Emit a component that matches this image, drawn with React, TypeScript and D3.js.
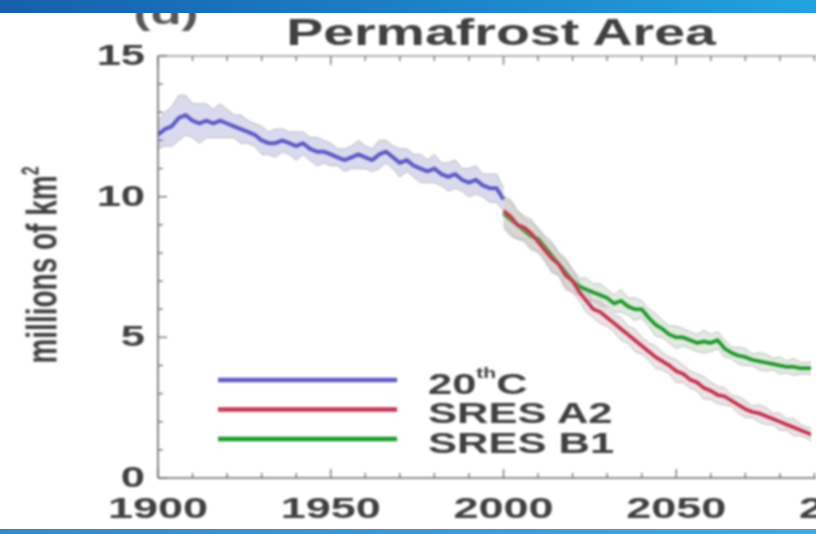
import React from "react";
import * as d3 from "d3";

// ---------- data ----------
const histYears = d3.range(1900, 2001, 2);
const histValues = [
  12.2, 12.4, 12.5, 12.8, 12.9, 12.7, 12.6, 12.7, 12.6, 12.7,
  12.6, 12.5, 12.4, 12.3, 12.2, 12.0, 11.9, 11.9, 12.0, 11.9,
  11.8, 11.9, 11.7, 11.6, 11.6, 11.5, 11.4, 11.3, 11.4, 11.5,
  11.4, 11.3, 11.5, 11.6, 11.4, 11.2, 11.3, 11.1, 11.0, 10.9,
  11.0, 10.8, 10.7, 10.8, 10.6, 10.5, 10.6, 10.4, 10.3, 10.3, 9.9,
];
const histSpread = [
  0.5, 0.6, 0.7, 0.8, 0.7, 0.6, 0.7, 0.6, 0.5, 0.6,
  0.5, 0.4, 0.5, 0.4, 0.4, 0.5, 0.4, 0.5, 0.4, 0.4,
  0.5, 0.4, 0.4, 0.5, 0.4, 0.4, 0.3, 0.4, 0.4, 0.5,
  0.4, 0.4, 0.5, 0.4, 0.4, 0.5, 0.4, 0.4, 0.5, 0.4,
  0.5, 0.4, 0.5, 0.5, 0.4, 0.5, 0.5, 0.4, 0.5, 0.5, 0.4,
];

const futYears = d3.range(2000, 2101, 2);
const a2Values = [
  9.5, 9.3, 9.0, 8.9, 8.7, 8.4, 8.1, 7.8, 7.6, 7.2,
  7.0, 6.6, 6.3, 6.0, 5.9, 5.7, 5.5, 5.3, 5.1, 4.9,
  4.7, 4.5, 4.3, 4.15, 4.0, 3.8, 3.7, 3.5, 3.4, 3.2,
  3.1, 2.95, 2.9, 2.75, 2.6, 2.45, 2.35, 2.3, 2.2, 2.1,
  2.0, 1.9, 1.8, 1.7, 1.6, 1.5, 1.45, 1.4, 1.3, 1.25, 1.2,
];
const b1Values = [
  9.4, 9.2, 9.0, 8.8, 8.6, 8.5, 8.2, 7.9, 7.6, 7.3,
  7.0, 6.8, 6.7, 6.6, 6.5, 6.4, 6.2, 6.3, 6.1, 6.0,
  6.0, 5.7, 5.45, 5.3, 5.1, 5.0, 5.0, 4.9, 4.8, 4.85,
  4.8, 4.9, 4.6, 4.45, 4.35, 4.3, 4.2, 4.15, 4.1, 4.05,
  4.0, 3.95, 3.95, 3.9, 3.9, 3.9, 3.88, 3.87, 3.86, 3.85, 3.85,
];
const futSpread = [
  0.5, 0.6, 0.5, 0.4, 0.5, 0.4, 0.4, 0.5, 0.4, 0.5,
  0.4, 0.3, 0.4, 0.3, 0.4, 0.3, 0.3, 0.4, 0.3, 0.4,
  0.3, 0.3, 0.4, 0.3, 0.3, 0.4, 0.3, 0.3, 0.3, 0.4,
  0.3, 0.3, 0.3, 0.2, 0.3, 0.3, 0.2, 0.3, 0.3, 0.2,
  0.3, 0.2, 0.3, 0.2, 0.2, 0.3, 0.2, 0.2, 0.3, 0.2, 0.2,
];

const xTicks = [1900, 1950, 2000, 2050, 2100];
const yTicks = [0, 5, 10, 15];
const legendLabels = ["20", "SRES A2", "SRES B1"];
const seriesColors = ["#5b5bc4", "#c23552", "#1f9a2a"];

// ---------- layout ----------
const W = 816;
const H = 534;
const X0 = 158;
const Y0 = 478;
const YT = 56;
const CLIP_R = 811;
const SX = 1.5; // horizontal stretch of the original raster

export default function App() {
  const x = d3.scaleLinear().domain([1900, 2100]).range([X0, 849]);
  const y = d3.scaleLinear().domain([0, 15]).range([Y0, YT]);

  const mk = (years: number[], vals: number[]) =>
    d3
      .line<number>()
      .x((_, i) => x(years[i]))
      .y((v) => y(v))(vals) as string;

  const band = (years: number[], vals: number[], spread: number[]) =>
    d3
      .area<number>()
      .x((_, i) => x(years[i]))
      .y0((v, i) => y(v - spread[i]))
      .y1((v, i) => y(v + spread[i]))(vals) as string;

  const edge = (years: number[], vals: number[], spread: number[], s: number) =>
    d3
      .line<number>()
      .x((_, i) => x(years[i]))
      .y((v, i) => y(v + s * spread[i]))(vals) as string;

  const minorX = d3.range(1900, 2101, 10);
  const minorY = d3.range(0, 16, 1);

  const axisColor = "#6a6a6a";
  const textColor = "#404040";
  const font = "'Liberation Sans', Arial, Helvetica, sans-serif";

  const series = [
    { years: histYears, vals: histValues, spread: histSpread, fill: "rgba(150,150,210,0.35)", color: seriesColors[0] },
    { years: futYears, vals: b1Values, spread: futSpread, fill: "rgba(170,200,170,0.35)", color: seriesColors[2] },
    { years: futYears, vals: a2Values, spread: futSpread, fill: "rgba(205,175,185,0.35)", color: seriesColors[1] },
  ];

  return (
    <svg
      width={W}
      height={H}
      style={{ position: "absolute", left: 0, top: 0, background: "#fff" }}
      fontFamily={font}
    >
      <defs>
        <clipPath id="plotClip">
          <rect x={X0} y={YT - 5} width={CLIP_R - X0} height={Y0 - YT + 5} />
        </clipPath>
        <linearGradient id="topBar" x1="0" x2="1" y1="0" y2="0">
          <stop offset="0" stopColor="#1660ad" />
          <stop offset="0.6" stopColor="#1d86cc" />
          <stop offset="1" stopColor="#22a3de" />
        </linearGradient>
        <linearGradient id="botBar" x1="0" x2="1" y1="0" y2="0">
          <stop offset="0" stopColor="#3a87c8" />
          <stop offset="1" stopColor="#4aa6dc" />
        </linearGradient>
        <filter id="soft" x="-5%" y="-5%" width="110%" height="110%">
          <feGaussianBlur stdDeviation="0.8" />
        </filter>
      </defs>

      <rect x={0} y={0} width={W} height={H} fill="#fff" />

      <g filter="url(#soft)">
        {/* panel label and title */}
        <text transform={`translate(166,24) scale(${SX},1)`} textAnchor="middle" fontSize={34} fontWeight="bold" fill="#555">
          (d)
        </text>
        <text transform={`translate(501,45) scale(${SX},1)`} textAnchor="middle" fontSize={37} fontWeight="bold" fill={textColor}>
          Permafrost Area
        </text>

        {/* data */}
        <g clipPath="url(#plotClip)">
          {series.map((s, i) => (
            <g key={"b" + i}>
              <path d={band(s.years, s.vals, s.spread)} fill={s.fill} stroke="none" />
              <path d={edge(s.years, s.vals, s.spread, 1)} fill="none" stroke="#a8a8a8" strokeWidth={1} opacity={0.8} />
              <path d={edge(s.years, s.vals, s.spread, -1)} fill="none" stroke="#a8a8a8" strokeWidth={1} opacity={0.8} />
            </g>
          ))}
          {series.map((s, i) => (
            <path key={"l" + i} d={mk(s.years, s.vals)} fill="none" stroke={s.color} strokeWidth={4} strokeLinejoin="round" />
          ))}
        </g>

        {/* axes frame */}
        <line x1={X0} x2={X0} y1={YT} y2={Y0} stroke={axisColor} strokeWidth={1.6} />
        <line x1={X0} x2={W} y1={Y0} y2={Y0} stroke={axisColor} strokeWidth={1.6} />
        <line x1={X0} x2={W} y1={YT} y2={YT} stroke={axisColor} strokeWidth={1.2} />

        {minorX.map((t) => {
          const major = t % 50 === 0;
          const len = major ? 9 : 5;
          return (
            <g key={"xt" + t}>
              <line x1={x(t)} x2={x(t)} y1={Y0} y2={Y0 - len} stroke={axisColor} strokeWidth={1.3} />
              <line x1={x(t)} x2={x(t)} y1={YT} y2={YT + len} stroke={axisColor} strokeWidth={1.3} />
            </g>
          );
        })}
        {minorY.map((t) => {
          const major = t % 5 === 0;
          const len = major ? 9 : 5;
          return <line key={"yt" + t} x1={X0} x2={X0 + len} y1={y(t)} y2={y(t)} stroke={axisColor} strokeWidth={1.3} />;
        })}

        {xTicks.map((t) => (
          <text key={"xl" + t} transform={`translate(${x(t)},518) scale(${SX},1)`} textAnchor="middle" fontSize={30} fontWeight="bold" fill={textColor}>
            {t}
          </text>
        ))}
        {yTicks.map((t) => (
          <text key={"yl" + t} transform={`translate(145,${y(t) + 9}) scale(${SX},1)`} textAnchor="end" fontSize={29} fontWeight="bold" fill={textColor}>
            {t}
          </text>
        ))}

        {/* y axis title */}
        <text transform={`translate(56,265) scale(${SX},1) rotate(-90)`} textAnchor="middle" fontSize={28} fontWeight="bold" fill={textColor}>
          millions of km<tspan fontSize={16} dy={-12}>2</tspan>
        </text>

        {/* legend */}
        {legendLabels.map((lab, i) => {
          const ly = 380 + i * 29.5;
          return (
            <g key={"lg" + i}>
              <line x1={218} x2={397} y1={ly} y2={ly} stroke={seriesColors[i]} strokeWidth={4.5} />
              <text transform={`translate(428,${ly + 6}) scale(${SX},1)`} fontSize={29} fontWeight="bold" fill={textColor} dominantBaseline="middle">
                {i === 0 ? (
                  <>
                    20<tspan fontSize={14} dy={-12}>th</tspan>
                    <tspan dy={12}>C</tspan>
                  </>
                ) : (
                  lab
                )}
              </text>
            </g>
          );
        })}
      </g>

      {/* banners */}
      <rect x={0} y={0} width={W} height={13} fill="url(#topBar)" />
      <rect x={0} y={529} width={W} height={5} fill="url(#botBar)" />
    </svg>
  );
}
